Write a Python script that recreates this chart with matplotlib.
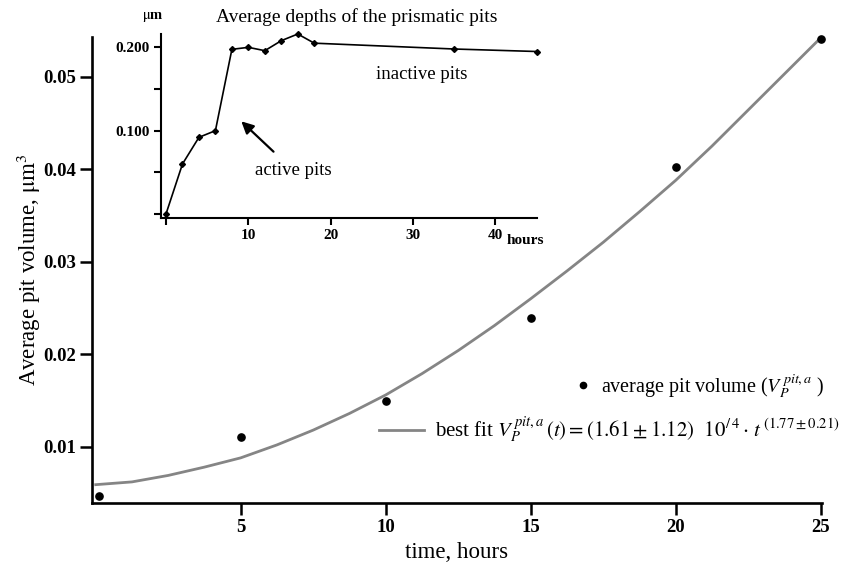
import matplotlib
matplotlib.use("Agg")
import matplotlib.pyplot as plt
from matplotlib.lines import Line2D

plt.rcParams['font.family'] = ['Liberation Serif', 'DejaVu Serif']
plt.rcParams['mathtext.fontset'] = 'stix'

# main plot: average pit volume
time_h = [0.1, 5, 10, 15, 20, 25]
volume = [0.00467, 0.01108, 0.01497, 0.0239, 0.0402, 0.05404]

# best fit line
fit_t = [0, 1.25, 2.5, 3.75, 5, 6.25, 7.5, 8.75, 10, 11.25, 12.5, 13.75,
         15, 16.25, 17.5, 18.75, 20, 21.25, 22.5, 23.75, 25]
fit_v = [0.0059, 0.0062, 0.0069, 0.0078, 0.0088, 0.0102, 0.0118, 0.0136,
         0.0156, 0.0179, 0.0204, 0.0231, 0.0260, 0.0290, 0.0321, 0.0354,
         0.0388, 0.0425, 0.0464, 0.0503, 0.0542]

# inset: average depths
depth_t = [0, 2, 4, 6, 8, 10, 12, 14, 16, 18, 35, 45]
depth = [0.0, 0.060, 0.092, 0.100, 0.1976, 0.200, 0.196, 0.208, 0.216, 0.205, 0.198, 0.195]

main_xticks = [5, 10, 15, 20, 25]
main_yticks = [0.01, 0.02, 0.03, 0.04, 0.05]
inset_xticks = [0, 10, 20, 30, 40]
inset_xlabels = ['', '10', '20', '30', '40']
inset_yticks = [0.0, 0.05, 0.10, 0.15, 0.20]
inset_ylabels = ['', '', '0.100', '', '0.200']

fig = plt.figure(figsize=(8.41, 5.64), dpi=100)

ax = fig.add_axes([0.109, 0.108, 0.868, 0.827])
ax.plot(fit_t, fit_v, color='#858585', lw=2.0, clip_on=False, solid_joinstyle='round')
ax.plot(time_h, volume, 'o', color='black', markersize=5.2, clip_on=False)
ax.set_xlim(-0.14, 25.03)
ax.set_ylim(0.00391, 0.05432)
ax.set_xticks(main_xticks)
ax.set_xticklabels([str(v) for v in main_xticks])
ax.set_yticks(main_yticks)
ax.set_yticklabels(['%.2f' % v for v in main_yticks])
for lab in ax.get_xticklabels() + ax.get_yticklabels():
    lab.set_fontweight('bold')
    lab.set_fontsize(13.5)
ax.tick_params(direction='out', length=8.5, width=1.8, pad=3)
ax.spines['top'].set_visible(False)
ax.spines['right'].set_visible(False)
ax.spines['left'].set_linewidth(1.9)
ax.spines['bottom'].set_linewidth(1.9)
ax.set_xlabel('time, hours', fontsize=16.5, labelpad=4)
ax.set_ylabel(r'Average pit volume, $\mathrm{\mu m}^3$', fontsize=16.5, labelpad=0)

# legend rows, each right aligned
h_pts = Line2D([], [], marker='o', color='black', ls='none', markersize=4.5)
h_fit = Line2D([], [], color='#858585', lw=2.0)
leg1 = ax.legend([h_pts], [r'average pit volume ($V_P^{\,pit,a}$ )'],
                 loc='center right', bbox_to_anchor=(1.028, 0.251), frameon=False,
                 fontsize=14.5, handlelength=0.6, handletextpad=0.6)
ax.add_artist(leg1)
ax.legend([h_fit], [r'best fit $V_P^{\,pit,a}\,(t) = (1.61 \pm 1.12)$  $10^{/\,4} \cdot\, t^{\,(1.77\pm 0.21)}$'],
          loc='center right', bbox_to_anchor=(1.05, 0.155), frameon=False,
          fontsize=15, handlelength=2.2, handletextpad=0.5)

# inset
ins = fig.add_axes([0.1914, 0.6135, 0.4467, 0.3262])
ins.plot(depth_t, depth, color='black', lw=1.2, marker='D', markersize=3, clip_on=False)
ins.set_xlim(-0.61, 45.0)
ins.set_ylim(-0.0048, 0.216)
ins.set_xticks(inset_xticks)
ins.set_xticklabels(inset_xlabels)
ins.set_yticks(inset_yticks)
ins.set_yticklabels(inset_ylabels)
for lab in ins.get_xticklabels() + ins.get_yticklabels():
    lab.set_fontweight('bold')
    lab.set_fontsize(11)
ins.tick_params(direction='out', length=5, width=1.5, pad=3)
ins.spines['top'].set_visible(False)
ins.spines['right'].set_visible(False)
ins.spines['left'].set_linewidth(1.5)
ins.spines['bottom'].set_linewidth(1.5)
ins.patch.set_alpha(0)
ins.text(41.3, -0.0235, 'hours', fontsize=11, fontweight='bold', va='top', ha='left')
ins.text(0.52, 1.09, 'Average depths of the prismatic pits', transform=ins.transAxes,
         fontsize=14, ha='center', va='center')
ins.text(-0.022, 1.09, r'$\mathrm{\mu}$m', transform=ins.transAxes, fontsize=10.5,
         fontweight='bold', ha='center', va='center')
ins.text(31, 0.167, 'inactive pits', fontsize=13.5, ha='center', va='center')
ins.text(15.4, 0.0527, 'active pits', fontsize=13.5, ha='center', va='center')
ins.annotate('', xy=(8.9, 0.1135), xytext=(13.3, 0.0725),
             arrowprops=dict(arrowstyle='-|>', color='black', lw=1.6, mutation_scale=18))

fig.savefig('out.png', dpi=100)
